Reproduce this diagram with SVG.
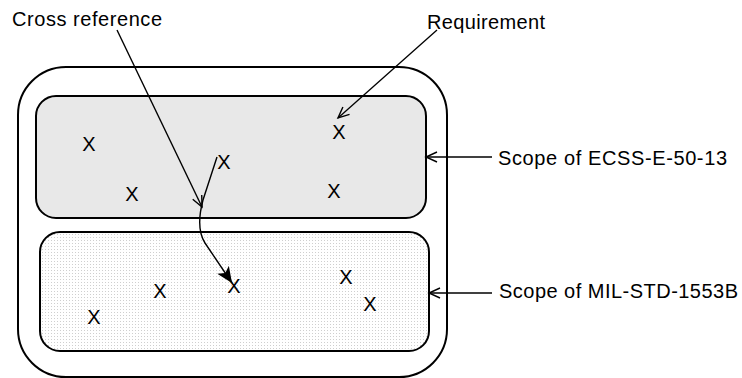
<svg xmlns="http://www.w3.org/2000/svg" width="742" height="378" viewBox="0 0 742 378">
<style>
.t{font-family:"Liberation Sans",Arial,sans-serif;font-size:20px;fill:#000}
.x{font-family:"Liberation Sans",Arial,sans-serif;font-size:20px;fill:#000;text-anchor:middle}
.box{stroke:#000;stroke-width:2}
.ln{fill:none;stroke:#000;stroke-width:1.4}
</style>
<defs>
<pattern id="dots" width="3" height="3" patternUnits="userSpaceOnUse">
<rect width="3" height="3" fill="#fff"/>
<rect width="1" height="1" fill="#cfcfcf"/>
</pattern>
<marker id="open" markerWidth="14" markerHeight="12" refX="12" refY="6" orient="auto" markerUnits="userSpaceOnUse">
<path d="M1,1 L12,6 L1,11" fill="none" stroke="#000" stroke-width="1.4"/>
</marker>
<marker id="solid" markerWidth="18" markerHeight="14" refX="16" refY="7" orient="auto" markerUnits="userSpaceOnUse">
<path d="M0,0 L16,7 L0,14 L4,7 Z" fill="#000"/>
</marker>
</defs>
<g id="outer">
<rect class="box" x="18" y="67" width="429" height="310" rx="48" fill="#fff"/>
</g>
<g id="ecss">
<rect class="box" x="36" y="96" width="390" height="122" rx="20" fill="#e8e8e8"/>
<text class="x" x="89" y="151">X</text>
<text class="x" x="132" y="201">X</text>
<text class="x" x="224" y="169">X</text>
<text class="x" x="339" y="139">X</text>
<text class="x" x="334" y="198">X</text>
</g>
<g id="mil">
<rect class="box" x="40" y="232" width="389" height="119" rx="20" fill="url(#dots)"/>
<text class="x" x="160" y="298">X</text>
<text class="x" x="94" y="324">X</text>
<text class="x" x="234" y="293">X</text>
<text class="x" x="346" y="284">X</text>
<text class="x" x="370" y="311">X</text>
</g>
<g id="labels">
<text class="t" x="12" y="26" textLength="150" lengthAdjust="spacing">Cross reference</text>
<text class="t" x="427" y="29" textLength="118" lengthAdjust="spacing">Requirement</text>
<text class="t" x="498" y="165" textLength="229" lengthAdjust="spacing">Scope of ECSS-E-50-13</text>
<text class="t" x="499" y="298" textLength="239" lengthAdjust="spacing">Scope of MIL-STD-1553B</text>
</g>
<g id="connectors">
<line class="ln" x1="117" y1="30" x2="202" y2="207" marker-end="url(#open)"/>
<line class="ln" x1="437" y1="30" x2="338" y2="118" marker-end="url(#open)"/>
<path class="ln" d="M217,157 L203,200 C199,215 198,232 205,243 L232,283" stroke-width="1.8" marker-end="url(#solid)"/>
<line class="ln" x1="492" y1="157" x2="426" y2="157" marker-end="url(#open)"/>
<line class="ln" x1="492" y1="293" x2="429" y2="293" marker-end="url(#open)"/>
</g>
</svg>
